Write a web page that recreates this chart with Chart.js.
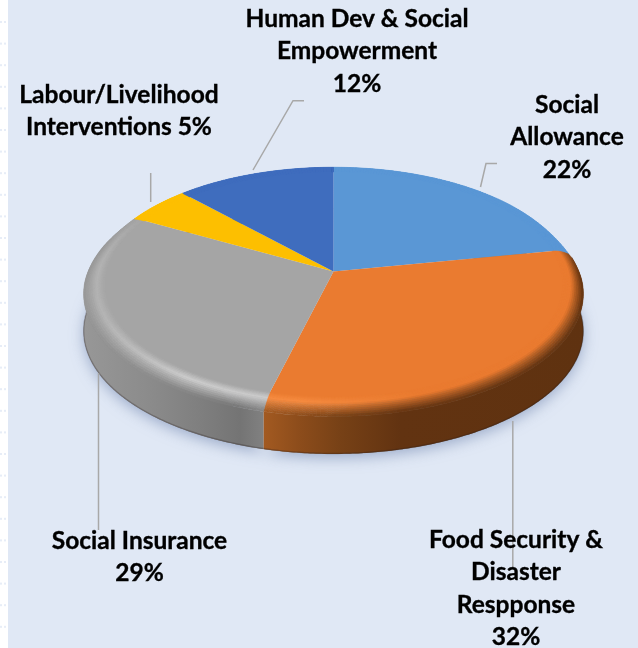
<!DOCTYPE html>
<html>
<head>
<meta charset="utf-8">
<style>
  html, body { margin: 0; padding: 0; background: #ffffff; }
  canvas { display: block; }
</style>
<script src="https://cdn.jsdelivr.net/npm/chart.js@4"></script>
</head>
<body>
<canvas id="pie" width="638" height="648"></canvas>
<script>
// Budget shares by programme area.
const categories = [
  'Social Allowance',
  'Food Security & Disaster Respponse',
  'Social Insurance',
  'Labour/Livelihood Interventions',
  'Human Dev & Social Empowerment'
];
const shares = [22, 32, 29, 5, 12];
const sliceColors = ['#5a97d5', '#ea7b30', '#a5a5a5', '#fdbf00', '#3f6dbe'];

// Wrapped label text; the percentage joins the final line or gets its own.
const labelLines = [
  ['Social', 'Allowance', '{v}'],
  ['Food Security &', 'Disaster', 'Respponse', '{v}'],
  ['Social Insurance', '{v}'],
  ['Labour/Livelihood', 'Interventions {v}'],
  ['Human Dev & Social', 'Empowerment', '{v}']
];
// Centre x and first baseline of each label block.
const labelAnchors = [[567, 113], [516, 548], [139.5, 549], [119, 103], [357, 27]];
const LINE_HEIGHT = 32.4;
const leaderPaths = [
  [[480.5, 187], [486, 163.5], [497, 163.5]],
  [[512.8, 421], [512.8, 567]],
  [[98.5, 373], [98.5, 530]],
  [[150.7, 173], [150.7, 202]],
  [[253, 170], [293, 100.7], [304, 100.7]]
];

// Perspective disc: plane coordinates are divided by a depth term so the
// near half of the pie reads larger than the far half.
const SQUASH = 0.4875, DEPTH = 0.12;
const RIM_IN = 0.95, RIM_OUT = 1.035, RIM_DROP = 7, WALL_DROP = 44.5, WALL_R = 1.035;
const WALL_STOPS = {
  1: [[258, '#a65c22'], [300, '#8c4c1b'], [340, '#774116'], [400, '#623311'], [590, '#5f3210']],
  2: [[80, '#989898'], [150, '#8b8b8b'], [200, '#7f7f7f'], [240, '#747474'], [262, '#808080']]
};
const HIGHLIGHT = { 1: '#f78d42', 2: '#cdcdcd' };

const hex = c => [1, 3, 5].map(i => parseInt(c.slice(i, i + 2), 16));
const mix = (a, b, t) => a.map((v, i) => v + (b[i] - v) * t);
const css = c => `rgb(${c.map(v => Math.round(v)).join(',')})`;
const clamp = v => Math.min(1, Math.max(0, v));
const smooth = v => { const t = clamp(v); return t * t * (3 - 2 * t); };

function wallColorAt(stops, x) {
  if (x <= stops[0][0]) return hex(stops[0][1]);
  for (let i = 1; i < stops.length; i++) {
    if (x <= stops[i][0]) {
      const t = (x - stops[i - 1][0]) / (stops[i][0] - stops[i - 1][0]);
      return mix(hex(stops[i - 1][1]), hex(stops[i][1]), t);
    }
  }
  return hex(stops[stops.length - 1][1]);
}

const disc3d = {
  id: 'disc3d',
  beforeDraw(chart) {
    const ctx = chart.ctx;
    ctx.fillStyle = '#e0e8f5';
    ctx.fillRect(8, 0, chart.width - 8, chart.height);
    // Faint dotted ruling left in the margin strip.
    ctx.fillStyle = '#e7edf7';
    for (let y = 22; y < chart.height; y += 21.6) {
      ctx.fillRect(0, y - 1, 2, 2);
      ctx.fillRect(4, y - 1, 2, 2);
    }
  },
  beforeDatasetsDraw(chart) {
    const ctx = chart.ctx;
    const arcs = chart.getDatasetMeta(0).data;
    const cx = arcs[0].x, cy = arcs[0].y, A = arcs[0].outerRadius, B = A * SQUASH;
    const project = (ang, r, dy) => {
      const px = Math.cos(ang) * r, py = Math.sin(ang) * r, w = 1 - DEPTH * py;
      return [cx + A * px / w, cy + B * py / w + dy];
    };
    const sweep = (arc, r, dy, reverse) => {
      const n = Math.max(2, Math.ceil((arc.endAngle - arc.startAngle) / 0.01));
      const pts = [];
      for (let i = 0; i <= n; i++) {
        pts.push(project(arc.startAngle + (arc.endAngle - arc.startAngle) * i / n, r, dy));
      }
      return reverse ? pts.reverse() : pts;
    };
    const trace = pts => pts.forEach((p, i) => i ? ctx.lineTo(p[0], p[1]) : ctx.moveTo(p[0], p[1]));

    // Soft shadow under the whole disc.
    ctx.save();
    ctx.shadowColor = 'rgba(115,135,175,0.6)';
    ctx.shadowBlur = 14;
    ctx.shadowOffsetY = 4;
    ctx.fillStyle = '#7f7f7f';
    ctx.beginPath();
    arcs.forEach(arc => trace(sweep(arc, WALL_R, WALL_DROP)));
    ctx.closePath();
    ctx.fill();
    ctx.restore();

    // Side wall of each slice, shaded left to right.
    arcs.forEach((arc, i) => {
      const stops = WALL_STOPS[i];
      if (!stops) return;
      const g = ctx.createLinearGradient(stops[0][0], 0, stops[stops.length - 1][0], 0);
      const span = stops[stops.length - 1][0] - stops[0][0];
      stops.forEach(s => g.addColorStop((s[0] - stops[0][0]) / span, s[1]));
      ctx.beginPath();
      trace(sweep(arc, RIM_OUT, RIM_DROP));
      sweep(arc, WALL_R, WALL_DROP, true).forEach(p => ctx.lineTo(p[0], p[1]));
      ctx.closePath();
      ctx.fillStyle = g;
      ctx.fill();
      // Dark seam along the lower edge.
      ctx.beginPath();
      trace(sweep(arc, WALL_R, WALL_DROP - 0.5));
      ctx.strokeStyle = 'rgba(40,30,30,0.28)';
      ctx.lineWidth = 1.4;
      ctx.stroke();
    });

    // Flat top face of each slice.
    arcs.forEach((arc, i) => {
      ctx.beginPath();
      ctx.moveTo(cx, cy);
      sweep(arc, 1, 0).forEach(p => ctx.lineTo(p[0], p[1]));
      ctx.closePath();
      ctx.fillStyle = sliceColors[i];
      ctx.fill();
    });

    // Rounded shoulder between face and wall, built from small facets.
    // It flattens out toward the far side, where the rim is hidden.
    const RINGS = 12, DA = Math.PI / 240;
    const nearness = a => smooth((Math.sin(a) + 0.6) / 0.65);
    const ringPoint = (a, t) => {
      const f = nearness(a);
      const outer = 1 + (RIM_OUT - 1) * f;
      const r = RIM_IN + (outer - RIM_IN) * t;
      return project(a, r, RIM_DROP * t * t * f);
    };
    arcs.forEach((arc, i) => {
      const face = hex(sliceColors[i]);
      const stops = WALL_STOPS[i];
      for (let a = arc.startAngle; a < arc.endAngle - 1e-6; a += DA) {
        const b = Math.min(a + DA, arc.endAngle);
        const s = nearness((a + b) / 2);
        for (let k = 0; k < RINGS; k++) {
          const t0 = k / RINGS, t1 = (k + 1) / RINGS, tm = (t0 + t1) / 2;
          const p1 = ringPoint(a, t0), p2 = ringPoint(b, t0);
          const p3 = ringPoint(b, t1), p4 = ringPoint(a, t1);
          let col = face;
          if (stops && s > 0) {
            const x = p1[0];
            const wall = wallColorAt(stops, x);
            let hi = hex(HIGHLIGHT[i]);
            if (i === 1) hi = mix(hi, face, clamp((x - 300) / 120));
            else hi = mix(mix(face, hi, 0.35), hi, clamp((x - 95) / 90));
            const shoulder = tm < 0.4 ? mix(face, hi, tm / 0.4) : mix(hi, wall, (tm - 0.4) / 0.6);
            col = mix(face, shoulder, s);
          }
          ctx.beginPath();
          ctx.moveTo(p1[0], p1[1]); ctx.lineTo(p2[0], p2[1]);
          ctx.lineTo(p3[0], p3[1]); ctx.lineTo(p4[0], p4[1]);
          ctx.closePath();
          ctx.fillStyle = ctx.strokeStyle = css(col);
          ctx.lineWidth = 0.6;
          ctx.fill();
          ctx.stroke();
        }
      }
    });

    // Leader lines run underneath the label text.
    ctx.strokeStyle = '#a8a8a8';
    ctx.lineWidth = 1.5;
    leaderPaths.forEach(path => {
      ctx.beginPath();
      trace(path);
      ctx.stroke();
    });

    // Category labels with their percentages.
    ctx.fillStyle = '#000000';
    ctx.strokeStyle = '#000000';
    ctx.lineWidth = 0.35;
    ctx.font = 'bold 24.5px Lato, sans-serif';
    ctx.textAlign = 'center';
    ctx.textBaseline = 'alphabetic';
    labelLines.forEach((lines, i) => {
      lines.forEach((line, j) => {
        const text = line.replace('{v}', shares[i] + '%');
        const y = labelAnchors[i][1] + j * LINE_HEIGHT;
        ctx.fillText(text, labelAnchors[i][0], y);
        ctx.strokeText(text, labelAnchors[i][0], y);
      });
    });
    return false;
  }
};

new Chart(document.getElementById('pie'), {
  type: 'pie',
  data: {
    labels: categories,
    datasets: [{ data: shares, backgroundColor: sliceColors, borderWidth: 0 }]
  },
  options: {
    responsive: false,
    animation: false,
    layout: { padding: { left: 29, right: 0, top: 32, bottom: 137 } },
    plugins: { legend: { display: false }, tooltip: { enabled: false } }
  },
  plugins: [disc3d]
});
</script>
</body>
</html>
